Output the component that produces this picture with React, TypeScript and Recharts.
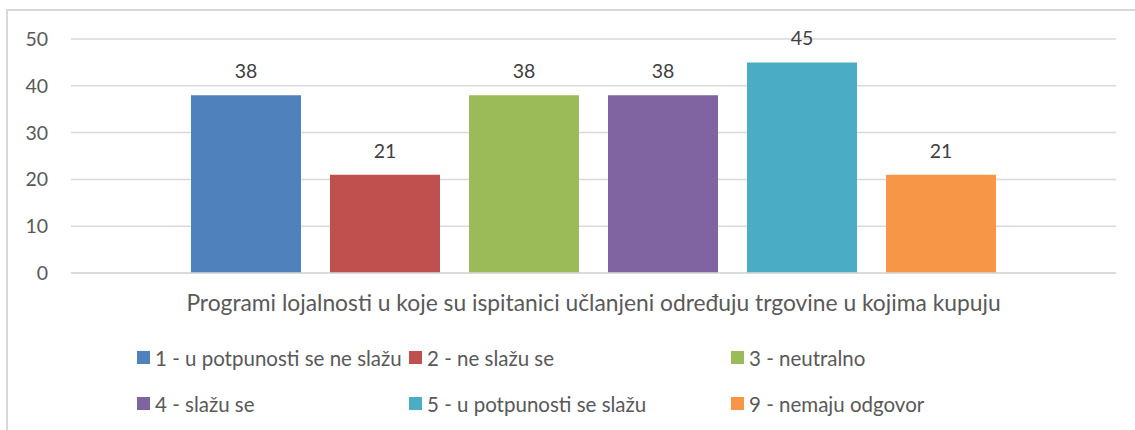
import { BarChart, Bar, XAxis, YAxis, CartesianGrid, LabelList } from "recharts";

const CATEGORY = "Programi lojalnosti u koje su ispitanici učlanjeni određuju trgovine u kojima kupuju";
const SERIES_NAMES = [
  "1 - u potpunosti se ne slažu",
  "2 - ne slažu se",
  "3 - neutralno",
  "4 - slažu se",
  "5 - u potpunosti se slažu",
  "9 - nemaju odgovor",
];
const SERIES_VALUES = [38, 21, 38, 38, 45, 21];
const SERIES_COLORS = ["#4F81BD", "#C0504D", "#9BBB59", "#8064A2", "#4BACC6", "#F79646"];
const Y_TICKS = [0, 10, 20, 30, 40, 50];

const FONT = "Lato, 'Open Sans', sans-serif";
const TEXT = "#595959";

const row: Record<string, string | number> = { name: CATEGORY };
SERIES_VALUES.forEach((v, i) => (row["s" + i] = v));
const data = [row];

// legend is laid out like excel: 3 columns, 2 rows
const LEGEND_COLS = [137, 409, 731];
const LEGEND_ROWS = [351, 397];

export default function App() {
  return (
    <div style={{ position: "absolute", left: 0, top: 0, width: 1135, height: 430, overflow: "hidden", background: "#fff", fontFamily: FONT }}>
      <div style={{ position: "absolute", left: 6, top: 9, width: 1140, height: 440, border: "2px solid #d9d9d9" }} />
      <div style={{ position: "absolute", left: 0, top: 0 }}>
        <BarChart width={1135} height={430} data={data} margin={{ top: 39, right: 19, left: 0, bottom: 117 }} barGap={29} barSize={110}>
          <CartesianGrid vertical={false} stroke="#d9d9d9" strokeWidth={1.5} />
          <XAxis
            dataKey="name"
            height={40}
            axisLine={{ stroke: "#d9d9d9", strokeWidth: 1.5 }}
            tickLine={false}
            tickSize={0}
            tickMargin={22}
            tick={{ fill: TEXT, fontSize: 22.8, fontFamily: FONT }}
          />
          <YAxis
            width={71}
            domain={[0, 50]}
            ticks={Y_TICKS}
            axisLine={false}
            tickLine={false}
            tickSize={0}
            tickMargin={23}
            tick={{ fill: TEXT, fontSize: 19.5, fontFamily: FONT }}
          />
          {SERIES_NAMES.map((n, i) => (
            <Bar key={n} dataKey={"s" + i} name={n} fill={SERIES_COLORS[i]} isAnimationActive={false}>
              <LabelList dataKey={"s" + i} position="top" offset={17} fill="#404040" fontSize={19.5} fontFamily={FONT} />
            </Bar>
          ))}
        </BarChart>
      </div>
      {SERIES_NAMES.map((n, i) => (
        <div
          key={n}
          style={{
            position: "absolute",
            left: LEGEND_COLS[i % 3],
            top: LEGEND_ROWS[Math.floor(i / 3)],
            display: "flex",
            alignItems: "center",
            height: 13,
            color: TEXT,
            fontSize: 20.5,
            whiteSpace: "nowrap",
          }}
        >
          <span style={{ width: 13, height: 13, background: SERIES_COLORS[i], marginRight: 5, flex: "none" }} />
          {n}
        </div>
      ))}
    </div>
  );
}
